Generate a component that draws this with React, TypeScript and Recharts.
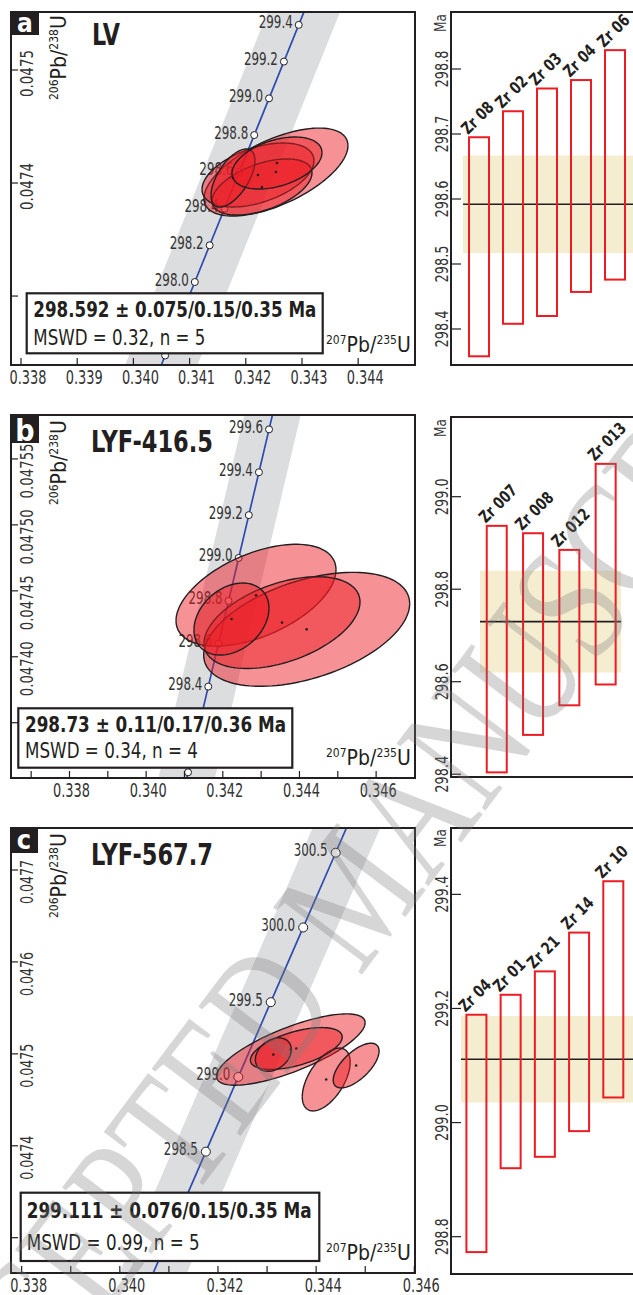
import React from "react";
import {
  ComposedChart, XAxis, YAxis, Line, Area, Scatter, Bar,
  ReferenceArea, ReferenceLine,
} from "recharts";

const FONT = "'Liberation Sans Narrow', 'DejaVu Sans Condensed', 'Liberation Sans', Arial, sans-serif";
const INK = "#231f20";
const RED = "#ed1c24";

// ---------- panel a : LV ----------
// concordia points: age (Ma), 207Pb/235U, 206Pb/238U
const concordiaA = [
  { t: 297.4, x: 0.340301, y: 0.0472149 },
  { t: 297.6, x: 0.340565, y: 0.0472474 },
  { t: 297.8, x: 0.340829, y: 0.0472799 },
  { t: 298.0, x: 0.341093, y: 0.0473124 },
  { t: 298.2, x: 0.341357, y: 0.0473449 },
  { t: 298.4, x: 0.341621, y: 0.0473774 },
  { t: 298.6, x: 0.341885, y: 0.0474099 },
  { t: 298.8, x: 0.34215, y: 0.0474424 },
  { t: 299.0, x: 0.342414, y: 0.0474749 },
  { t: 299.2, x: 0.342678, y: 0.0475074 },
  { t: 299.4, x: 0.342942, y: 0.0475399 },
  { t: 299.6, x: 0.343206, y: 0.0475724 },
];
const markersA = [297.6, 297.8, 298.0, 298.2, 298.4, 298.6, 298.8, 299.0, 299.2, 299.4];
const markerLabelsA = [298.0, 298.2, 298.4, 298.6, 298.8, 299.0, 299.2, 299.4];
// error ellipses: centre, half extents, correlation
const ellipsesA = [
  { x: 0.342537, sx: 0.001281, y: 0.0474097, sy: 0.0000389, rho: 0.6 },
  { x: 0.342217, sx: 0.000996, y: 0.0474071, sy: 0.0000283, rho: 0.45 },
  { x: 0.342288, sx: 0.00089, y: 0.0473965, sy: 0.0000248, rho: 0.5 },
  { x: 0.341772, sx: 0.000391, y: 0.0474044, sy: 0.0000257, rho: 0.6 },
  { x: 0.342555, sx: 0.000801, y: 0.0474177, sy: 0.000023, rho: 0.4 },
];
const xTicksA = [0.338, 0.339, 0.34, 0.341, 0.342, 0.343, 0.344];
const xLabelsA = [0.338, 0.339, 0.34, 0.341, 0.342, 0.343, 0.344];
const yTicksA = [0.0473, 0.0474, 0.0475];
const yLabelsA = [0.0474, 0.0475];
const grainsA = ["Zr 08", "Zr 02", "Zr 03", "Zr 04", "Zr 06"];
const lowA = [298.358, 298.408, 298.42, 298.457, 298.476];
const highA = [298.695, 298.735, 298.77, 298.783, 298.829];
const ageTicksA = [298.4, 298.5, 298.6, 298.7, 298.8];
const meanA = 298.592;
const errA = 0.075;

// ---------- panel b : LYF-416.5 ----------
const concordiaB = [
  { t: 297.8, x: 0.340829, y: 0.0472799 },
  { t: 298.0, x: 0.341093, y: 0.0473124 },
  { t: 298.2, x: 0.341357, y: 0.0473449 },
  { t: 298.4, x: 0.341621, y: 0.0473774 },
  { t: 298.6, x: 0.341885, y: 0.0474099 },
  { t: 298.8, x: 0.34215, y: 0.0474424 },
  { t: 299.0, x: 0.342414, y: 0.0474749 },
  { t: 299.2, x: 0.342678, y: 0.0475074 },
  { t: 299.4, x: 0.342942, y: 0.0475399 },
  { t: 299.6, x: 0.343206, y: 0.0475724 },
  { t: 299.8, x: 0.34347, y: 0.0476049 },
];
const markersB = [298.0, 298.2, 298.4, 298.6, 298.8, 299.0, 299.2, 299.4, 299.6];
const markerLabelsB = [298.4, 298.6, 298.8, 299.0, 299.2, 299.4, 299.6];
const ellipsesB = [
  { x: 0.342866, sx: 0.002087, y: 0.0474467, sy: 0.0000386, rho: 0.5 },
  { x: 0.344188, sx: 0.002687, y: 0.0474208, sy: 0.0000432, rho: 0.45 },
  { x: 0.343544, sx: 0.002035, y: 0.0474259, sy: 0.0000348, rho: 0.45 },
  { x: 0.342226, sx: 0.000978, y: 0.0474286, sy: 0.0000273, rho: 0.3 },
];
const xTicksB = [0.337, 0.338, 0.339, 0.34, 0.341, 0.342, 0.343, 0.344, 0.345, 0.346];
const xLabelsB = [0.338, 0.34, 0.342, 0.344, 0.346];
const yTicksB = [0.04735, 0.0474, 0.04745, 0.0475, 0.04755];
const yLabelsB = [0.0474, 0.04745, 0.0475, 0.04755];
const grainsB = ["Zr 007", "Zr 008", "Zr 012", "Zr 013"];
const lowB = [298.404, 298.485, 298.549, 298.594];
const highB = [298.937, 298.921, 298.885, 299.071];
const ageTicksB = [298.4, 298.6, 298.8, 299.0];
const meanB = 298.73;
const errB = 0.11;

// ---------- panel c : LYF-567.7 ----------
const concordiaC = [
  { t: 297.5, x: 0.340433, y: 0.0472312 },
  { t: 298.0, x: 0.341093, y: 0.0473124 },
  { t: 298.5, x: 0.341753, y: 0.0473936 },
  { t: 299.0, x: 0.342414, y: 0.0474749 },
  { t: 299.5, x: 0.343075, y: 0.0475562 },
  { t: 300.0, x: 0.343736, y: 0.0476375 },
  { t: 300.5, x: 0.344398, y: 0.0477188 },
  { t: 301.0, x: 0.34506, y: 0.0478001 },
];
const markersC = [298.0, 298.5, 299.0, 299.5, 300.0, 300.5];
const markerLabelsC = [298.5, 299.0, 299.5, 300.0, 300.5];
const ellipsesC = [
  { x: 0.343484, sx: 0.001514, y: 0.0475047, sy: 0.0000388, rho: 0.75 },
  { x: 0.344205, sx: 0.000488, y: 0.0474721, sy: 0.0000342, rho: 0.55 },
  { x: 0.344815, sx: 0.000467, y: 0.0474873, sy: 0.0000243, rho: 0.65 },
  { x: 0.343596, sx: 0.000935, y: 0.0475058, sy: 0.0000228, rho: 0.55 },
  { x: 0.343128, sx: 0.000366, y: 0.0474992, sy: 0.0000182, rho: 0.3 },
];
const xTicksC = [0.338, 0.339, 0.34, 0.341, 0.342, 0.343, 0.344, 0.345, 0.346];
const xLabelsC = [0.338, 0.34, 0.342, 0.344, 0.346];
const yTicksC = [0.0473, 0.0474, 0.0475, 0.0476, 0.0477];
const yLabelsC = [0.0474, 0.0475, 0.0476, 0.0477];
const grainsC = ["Zr 04", "Zr 01", "Zr 21", "Zr 14", "Zr 10"];
const lowC = [298.773, 298.92, 298.94, 298.985, 299.044];
const highC = [299.189, 299.224, 299.265, 299.333, 299.423];
const ageTicksC = [298.8, 299.0, 299.2, 299.4];
const meanC = 299.111;
const errC = 0.076;

const has = (list: number[], v: number) => list.some((l) => Math.abs(l - v) < 1e-7);

// outline of an error ellipse as a vertical range area
function outline(e: { x: number; sx: number; y: number; sy: number; rho: number }, n = 64) {
  const pts = [];
  for (let i = 0; i <= n; i++) {
    const th = Math.PI * (1 - i / n);
    const u = Math.cos(th);
    const mid = e.y + e.rho * e.sy * u;
    const half = e.sy * Math.sqrt(1 - e.rho * e.rho) * Math.max(0, Math.sin(th));
    pts.push({ x: e.x + e.sx * u, r: [mid - half, mid + half] });
  }
  return pts;
}

const ConcXTick = (p: any) => {
  const { x, y, payload, labels, dx } = p;
  const v = payload.value;
  return (
    <g>
      <line x1={x} y1={y} x2={x} y2={y - 7} stroke={INK} strokeWidth={1.2} />
      {has(labels, v) && (
        <text x={x + dx} y={y + 19} textAnchor="middle" fontFamily={FONT} fontSize={19}
          fill="#333" textLength={37} lengthAdjust="spacingAndGlyphs">{v.toFixed(3)}</text>
      )}
    </g>
  );
};

const ConcYTick = (p: any) => {
  const { x, y, payload, labels, off, digits, len } = p;
  const v = payload.value;
  return (
    <g>
      <line x1={x} y1={y} x2={x + 7} y2={y} stroke={INK} strokeWidth={1.2} />
      {has(labels, v) && (
        <text transform={`translate(${x + 22},${y + off}) rotate(-90)`} textAnchor="middle"
          fontFamily={FONT} fontSize={18} fill="#333" textLength={len}
          lengthAdjust="spacingAndGlyphs">{v.toFixed(digits)}</text>
      )}
    </g>
  );
};

const AgeTick = (p: any) => {
  const { x, y, payload } = p;
  return (
    <g>
      <line x1={x} y1={y} x2={x + 10} y2={y} stroke={INK} strokeWidth={1.2} />
      <text transform={`translate(${x - 3},${y}) rotate(-90)`} textAnchor="middle" fontFamily={FONT}
        fontSize={17} fill="#333" textLength={37} lengthAdjust="spacingAndGlyphs">
        {payload.value.toFixed(1)}
      </text>
    </g>
  );
};

const AgeBar = (p: any) => {
  const top = Math.min(p.y, p.y + p.height);
  const h = Math.abs(p.height);
  const name = p.payload.grain as string;
  return (
    <g>
      <rect x={p.x} y={top} width={p.width} height={h} fill="none" stroke={RED} strokeWidth={2} />
      <text transform={`translate(${p.x - 1},${top - 2}) rotate(-45)`} fontFamily={FONT} fontWeight="bold"
        fontSize={16.5} fill={INK} textLength={name.length > 5 ? 46 : 38} lengthAdjust="spacingAndGlyphs">
        {name}
      </text>
    </g>
  );
};

function Concordia({ cfg, line, markers, labels, ellipses, xTicks, xLabels, yTicks, yLabels }: any) {
  const markerData = line.filter((pt: any) => has(markers, pt.t));
  const r = cfg.markerR;
  const markerShape = (s: any) => (
    <g>
      <circle cx={s.cx} cy={s.cy} r={r} fill="#fff" stroke={INK} strokeWidth={1} />
      {has(labels, s.payload.t) && (
        <text x={s.cx - r - cfg.labelGap} y={s.cy + 3.5} textAnchor="end" fontFamily={FONT} fontSize={17}
          fill="#333" textLength={34} lengthAdjust="spacingAndGlyphs">{s.payload.t.toFixed(1)}</text>
      )}
    </g>
  );
  const dotShape = (s: any) => <circle cx={s.cx} cy={s.cy} r={1.3} fill={INK} />;
  return (
    <div style={{ position: "absolute", left: 0, top: cfg.top }}>
      <ComposedChart width={cfg.width} height={cfg.height} margin={cfg.margin}>
        <XAxis type="number" dataKey="x" domain={cfg.xDomain} allowDataOverflow ticks={xTicks} interval={0}
          tickLine={false} axisLine={false} tickSize={0} tickMargin={0} height={cfg.xAxisHeight}
          tick={<ConcXTick labels={xLabels} dx={cfg.xLabelDx} />} />
        <YAxis type="number" dataKey="y" domain={cfg.yDomain} allowDataOverflow ticks={yTicks} interval={0}
          tickLine={false} axisLine={false} tickSize={0} tickMargin={0} width={11}
          tick={<ConcYTick labels={yLabels} off={cfg.yLabelOff} digits={cfg.yDigits} len={cfg.yLabelLen} />} />
        <Line data={line} dataKey="y" type="linear" stroke="#dcdddf" strokeWidth={cfg.bandWidth}
          dot={false} activeDot={false} isAnimationActive={false} zIndex={100} />
        <Line data={line} dataKey="y" type="linear" stroke="#2e4bb0" strokeWidth={1.7}
          dot={false} activeDot={false} isAnimationActive={false} zIndex={200} />
        <Scatter data={markerData} shape={markerShape} isAnimationActive={false} zIndex={300} />
        {ellipses.map((e: any, i: number) => (
          <Area key={i} data={outline(e)} dataKey="r" type="linear" stroke={INK} strokeWidth={1.4}
            fill={RED} fillOpacity={0.48} dot={false} activeDot={false} isAnimationActive={false} zIndex={400} />
        ))}
        <Scatter data={ellipses} shape={dotShape} isAnimationActive={false} zIndex={450} />
        <ReferenceArea x1={cfg.xDomain[0]} x2={cfg.xDomain[1]} y1={cfg.yDomain[0]} y2={cfg.yDomain[1]}
          fill="none" fillOpacity={0} stroke={INK} strokeWidth={2} zIndex={900} />
      </ComposedChart>
    </div>
  );
}

function Ages({ cfg, grains, low, high, mean, err, ticks }: any) {
  const data = grains.map((g: string, i: number) => ({ pos: i + 1, grain: g, range: [low[i], high[i]] }));
  return (
    <div style={{ position: "absolute", left: 0, top: cfg.top }}>
      <ComposedChart width={700} height={cfg.height} margin={cfg.margin} data={data}>
        <XAxis type="number" dataKey="pos" domain={cfg.xDomain} allowDataOverflow hide />
        <YAxis type="number" domain={cfg.yDomain} allowDataOverflow ticks={ticks} interval={0} width={60}
          tickLine={false} axisLine={false} tickSize={0} tickMargin={0} tick={<AgeTick />} />
        <ReferenceArea x1={cfg.band[0]} x2={cfg.band[1]} y1={mean - err} y2={mean + err}
          fill="#f5edcf" fillOpacity={1} stroke="none" ifOverflow="hidden" zIndex={50} />
        <ReferenceLine segment={[{ x: cfg.band[0], y: mean }, { x: cfg.band[1], y: mean }]}
          stroke={INK} strokeWidth={1.6} ifOverflow="hidden" zIndex={60} />
        <Bar dataKey="range" barSize={20} isAnimationActive={false} shape={<AgeBar />} zIndex={300} />
        <ReferenceArea x1={cfg.xDomain[0]} x2={cfg.xDomain[1]} y1={cfg.yDomain[0]} y2={cfg.yDomain[1]}
          fill="none" fillOpacity={0} stroke={INK} strokeWidth={2} zIndex={900} />
      </ComposedChart>
    </div>
  );
}

const PbRatio = ({ x, y, a, b, rotate = 0 }: any) => (
  <text transform={`translate(${x},${y}) rotate(${rotate})`} fontFamily={FONT} fill={INK}>
    <tspan fontSize={12} dy={-8.5}>{a}</tspan>
    <tspan fontSize={21} dy={8.5}>Pb/</tspan>
    <tspan fontSize={12} dy={-8.5}>{b}</tspan>
    <tspan fontSize={21} dy={8.5}>U</tspan>
  </text>
);

const InfoBox = ({ x, y, w, h, tx, b1, b2, l1, l2, age, mswd }: any) => (
  <g>
    <rect x={x} y={y} width={w} height={h} fill="#fff" stroke={INK} strokeWidth={2.2} />
    <text x={tx} y={b1} fontFamily={FONT} fontWeight="bold" fontSize={21} fill={INK}
      textLength={l1} lengthAdjust="spacingAndGlyphs">{age}</text>
    <text x={tx} y={b2} fontFamily={FONT} fontSize={22} fill={INK}
      textLength={l2} lengthAdjust="spacingAndGlyphs">{mswd}</text>
  </g>
);

const Tag = ({ x, y, w, h, letter, base, size }: any) => (
  <g>
    <rect x={x} y={y} width={w} height={h} fill={INK} />
    <text x={x + w / 2} y={base} textAnchor="middle" fontFamily={FONT} fontWeight="bold"
      fontSize={size} fill="#fff">{letter}</text>
  </g>
);

const Name = ({ x, y, len, children }: any) => (
  <text x={x} y={y} fontFamily={FONT} fontWeight="bold" fontSize={30} fill={INK}
    textLength={len} lengthAdjust="spacingAndGlyphs">{children}</text>
);

const Ma = ({ y }: any) => (
  <text transform={`translate(446,${y}) rotate(-90)`} textAnchor="middle" fontFamily={FONT} fontSize={16}
    fill="#333" textLength={18} lengthAdjust="spacingAndGlyphs">Ma</text>
);

function Overlay() {
  return (
    <svg width={633} height={1295} style={{ position: "absolute", left: 0, top: 0, pointerEvents: "none" }}>
      <Tag x={11} y={12} w={28} h={23} letter="a" base={32} size={26} />
      <Tag x={11} y={415} w={28} h={28} letter="b" base={441} size={30} />
      <Tag x={10} y={828} w={28} h={25} letter="c" base={849} size={27} />

      <Name x={92} y={45} len={28}>LV</Name>
      <Name x={91} y={452} len={122}>LYF-416.5</Name>
      <Name x={91} y={865} len={122}>LYF-567.7</Name>

      <PbRatio x={66} y={100} a="206" b="238" rotate={-90} />
      <PbRatio x={66} y={505} a="206" b="238" rotate={-90} />
      <PbRatio x={66} y={918} a="206" b="238" rotate={-90} />

      <PbRatio x={326} y={352} a="207" b="235" />
      <PbRatio x={326} y={765} a="207" b="235" />
      <PbRatio x={326} y={1260} a="207" b="235" />

      <InfoBox x={26.7} y={293.3} w={296} h={60} tx={33.3} b1={316.7} b2={345} l1={283} l2={172}
        age="298.592 ± 0.075/0.15/0.35 Ma" mswd="MSWD = 0.32, n = 5" />
      <InfoBox x={18.3} y={708.3} w={274} h={59.4} tx={25} b1={731.7} b2={758.3} l1={261} l2={173}
        age="298.73 ± 0.11/0.17/0.36 Ma" mswd="MSWD = 0.34, n = 4" />
      <InfoBox x={20.7} y={1192.7} w={298.6} h={68.3} tx={26.7} b1={1218.3} b2={1250} l1={285} l2={173}
        age="299.111 ± 0.076/0.15/0.35 Ma" mswd="MSWD = 0.99, n = 5" />

      <Ma y={23} />
      <Ma y={428} />
      <Ma y={838} />

      <text transform="translate(-56,1529) rotate(-53) scale(0.75,1)" fontFamily="'Liberation Serif', serif"
        fontSize={170} fill="#7a7a7a" opacity={0.3}>ACCEPTED MANUSCRIPT</text>
    </svg>
  );
}

const concA = {
  top: 0, width: 440, height: 390, margin: { top: 12, right: 25, bottom: 0, left: 0 }, xAxisHeight: 25,
  xDomain: [0.337822, 0.345011], yDomain: [0.047239, 0.0475513], xLabelDx: 7, yLabelOff: 3.5,
  yDigits: 4, yLabelLen: 47, bandWidth: 67, markerR: 3.5, labelGap: 2.5,
};
const concB = {
  top: 400, width: 440, height: 400, margin: { top: 15, right: 25, bottom: 0, left: 0 }, xAxisHeight: 22,
  xDomain: [0.336474, 0.347014], yDomain: [0.0473081, 0.0475833], xLabelDx: 2, yLabelOff: 12,
  yDigits: 5, yLabelLen: 55, bandWidth: 55, markerR: 3.5, labelGap: 2.5,
};
const concC = {
  top: 815, width: 440, height: 480, margin: { top: 13, right: 25, bottom: 0, left: 0 }, xAxisHeight: 22,
  xDomain: [0.337783, 0.346014], yDomain: [0.0472616, 0.0477457], xLabelDx: 7, yLabelOff: 12,
  yDigits: 4, yLabelLen: 44, bandWidth: 62, markerR: 4.5, labelGap: 3.5,
};
const agesA = {
  top: 0, height: 390, margin: { top: 12, right: 51, bottom: 25, left: 391 },
  xDomain: [0.176, 6.0], yDomain: [298.3446, 298.8877], band: [0.53, 6.0],
};
const agesB = {
  top: 400, height: 400, margin: { top: 17, right: 51, bottom: 23, left: 391 },
  xDomain: [-0.2645, 5.19], yDomain: [298.394, 299.1723], band: [0.534, 4.42],
};
const agesC = {
  top: 815, height: 480, margin: { top: 13, right: 51, bottom: 21, left: 391 },
  xDomain: [0.254, 6.04], yDomain: [298.7346, 299.5163], band: [0.544, 6.04],
};

export default function App() {
  return (
    <div style={{ position: "absolute", left: 0, top: 0, width: 633, height: 1295, overflow: "hidden", background: "#fff" }}>
      <Concordia cfg={concA} line={concordiaA} markers={markersA} labels={markerLabelsA} ellipses={ellipsesA}
        xTicks={xTicksA} xLabels={xLabelsA} yTicks={yTicksA} yLabels={yLabelsA} />
      <Concordia cfg={concB} line={concordiaB} markers={markersB} labels={markerLabelsB} ellipses={ellipsesB}
        xTicks={xTicksB} xLabels={xLabelsB} yTicks={yTicksB} yLabels={yLabelsB} />
      <Concordia cfg={concC} line={concordiaC} markers={markersC} labels={markerLabelsC} ellipses={ellipsesC}
        xTicks={xTicksC} xLabels={xLabelsC} yTicks={yTicksC} yLabels={yLabelsC} />
      <Ages cfg={agesA} grains={grainsA} low={lowA} high={highA} mean={meanA} err={errA} ticks={ageTicksA} />
      <Ages cfg={agesB} grains={grainsB} low={lowB} high={highB} mean={meanB} err={errB} ticks={ageTicksB} />
      <Ages cfg={agesC} grains={grainsC} low={lowC} high={highC} mean={meanC} err={errC} ticks={ageTicksC} />
      <Overlay />
    </div>
  );
}
